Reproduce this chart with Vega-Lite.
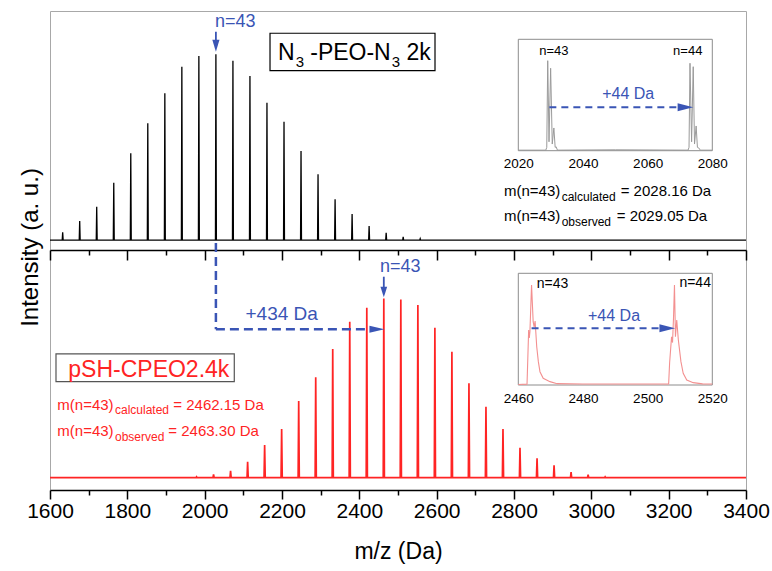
{
  "$schema": "https://vega.github.io/schema/vega-lite/v6.json",
  "width": 696,
  "height": 479,
  "autosize": "none",
  "padding": {"left": 50, "top": 11, "right": 26, "bottom": 81},
  "background": "white",
  "config": {
    "view": {"stroke": "#a8a8a8", "strokeWidth": 1},
    "font": "Liberation Sans",
    "text": {"font": "Liberation Sans"}
  },
  "datasets": {
    "topSpec": [
      {"mz": 1600, "I": 0.3},
      {"mz": 1631.6, "I": 0.3}, {"mz": 1632.8, "I": 4.5}, {"mz": 1634.0, "I": 0.3},
      {"mz": 1675.6, "I": 0.3}, {"mz": 1676.8, "I": 10.6}, {"mz": 1678.0, "I": 0.3},
      {"mz": 1719.6, "I": 0.3}, {"mz": 1720.8, "I": 18.2}, {"mz": 1722.0, "I": 0.3},
      {"mz": 1763.7, "I": 0.3}, {"mz": 1764.9, "I": 31.1}, {"mz": 1766.1, "I": 0.3},
      {"mz": 1807.7, "I": 0.3}, {"mz": 1808.9, "I": 46.9}, {"mz": 1810.1, "I": 0.3},
      {"mz": 1851.7, "I": 0.3}, {"mz": 1852.9, "I": 63.0}, {"mz": 1854.1, "I": 0.3},
      {"mz": 1895.8, "I": 0.3}, {"mz": 1897.0, "I": 79.1}, {"mz": 1898.2, "I": 0.3},
      {"mz": 1939.8, "I": 0.3}, {"mz": 1941.0, "I": 93.3}, {"mz": 1942.2, "I": 0.3},
      {"mz": 1983.8, "I": 0.3}, {"mz": 1985.0, "I": 99.1}, {"mz": 1986.2, "I": 0.3},
      {"mz": 2027.9, "I": 0.3}, {"mz": 2029.05, "I": 100}, {"mz": 2030.3, "I": 0.3},
      {"mz": 2071.9, "I": 0.3}, {"mz": 2073.1, "I": 96.6}, {"mz": 2074.3, "I": 0.3},
      {"mz": 2115.9, "I": 0.3}, {"mz": 2117.1, "I": 88.4}, {"mz": 2118.3, "I": 0.3},
      {"mz": 2159.9, "I": 0.3}, {"mz": 2161.1, "I": 74.0}, {"mz": 2162.3, "I": 0.3},
      {"mz": 2204.0, "I": 0.3}, {"mz": 2205.2, "I": 63.8}, {"mz": 2206.4, "I": 0.3},
      {"mz": 2248.0, "I": 0.3}, {"mz": 2249.2, "I": 48.1}, {"mz": 2250.4, "I": 0.3},
      {"mz": 2292.0, "I": 0.3}, {"mz": 2293.2, "I": 35.6}, {"mz": 2294.4, "I": 0.3},
      {"mz": 2336.1, "I": 0.3}, {"mz": 2337.3, "I": 22.2}, {"mz": 2338.5, "I": 0.3},
      {"mz": 2380.1, "I": 0.3}, {"mz": 2381.3, "I": 14.3}, {"mz": 2382.5, "I": 0.3},
      {"mz": 2424.1, "I": 0.3}, {"mz": 2425.3, "I": 7.9}, {"mz": 2426.5, "I": 0.3},
      {"mz": 2468.2, "I": 0.3}, {"mz": 2469.4, "I": 4.3}, {"mz": 2470.6, "I": 0.3},
      {"mz": 2512.2, "I": 0.3}, {"mz": 2513.4, "I": 2.1}, {"mz": 2514.6, "I": 0.3},
      {"mz": 2556.2, "I": 0.3}, {"mz": 2557.4, "I": 1.1}, {"mz": 2558.6, "I": 0.3},
      {"mz": 3400, "I": 0.3}
    ],
    "botSpec": [
      {"mz": 1600, "I": 0.5},
      {"mz": 1977.5, "I": 0.5}, {"mz": 1979.0, "I": 1.0}, {"mz": 1980.5, "I": 0.5},
      {"mz": 2021.5, "I": 0.5}, {"mz": 2023.0, "I": 2.3}, {"mz": 2024.5, "I": 0.5},
      {"mz": 2065.5, "I": 0.5}, {"mz": 2067.0, "I": 4.2}, {"mz": 2068.5, "I": 0.5},
      {"mz": 2109.6, "I": 0.5}, {"mz": 2111.1, "I": 9.3}, {"mz": 2112.6, "I": 0.5},
      {"mz": 2153.6, "I": 0.5}, {"mz": 2155.1, "I": 18.6}, {"mz": 2156.6, "I": 0.5},
      {"mz": 2197.6, "I": 0.5}, {"mz": 2199.1, "I": 27.5}, {"mz": 2200.6, "I": 0.5},
      {"mz": 2241.7, "I": 0.5}, {"mz": 2243.2, "I": 43.1}, {"mz": 2244.7, "I": 0.5},
      {"mz": 2285.7, "I": 0.5}, {"mz": 2287.2, "I": 56.2}, {"mz": 2288.7, "I": 0.5},
      {"mz": 2329.7, "I": 0.5}, {"mz": 2331.2, "I": 71.9}, {"mz": 2332.7, "I": 0.5},
      {"mz": 2373.7, "I": 0.5}, {"mz": 2375.2, "I": 87.1}, {"mz": 2376.7, "I": 0.5},
      {"mz": 2417.8, "I": 0.5}, {"mz": 2419.3, "I": 94.9}, {"mz": 2420.8, "I": 0.5},
      {"mz": 2461.8, "I": 0.5}, {"mz": 2463.3, "I": 100}, {"mz": 2464.8, "I": 0.5},
      {"mz": 2505.8, "I": 0.5}, {"mz": 2507.3, "I": 99.5}, {"mz": 2508.8, "I": 0.5},
      {"mz": 2549.9, "I": 0.5}, {"mz": 2551.4, "I": 96.4}, {"mz": 2552.9, "I": 0.5},
      {"mz": 2593.9, "I": 0.5}, {"mz": 2595.4, "I": 83.8}, {"mz": 2596.9, "I": 0.5},
      {"mz": 2637.9, "I": 0.5}, {"mz": 2639.4, "I": 70.4}, {"mz": 2640.9, "I": 0.5},
      {"mz": 2682.0, "I": 0.5}, {"mz": 2683.5, "I": 52.9}, {"mz": 2685.0, "I": 0.5},
      {"mz": 2726.0, "I": 0.5}, {"mz": 2727.5, "I": 39.9}, {"mz": 2729.0, "I": 0.5},
      {"mz": 2770.0, "I": 0.5}, {"mz": 2771.5, "I": 27.5}, {"mz": 2773.0, "I": 0.5},
      {"mz": 2814.0, "I": 0.5}, {"mz": 2815.5, "I": 17.1}, {"mz": 2817.0, "I": 0.5},
      {"mz": 2858.1, "I": 0.5}, {"mz": 2859.6, "I": 11.2}, {"mz": 2861.1, "I": 0.5},
      {"mz": 2902.1, "I": 0.5}, {"mz": 2903.6, "I": 7.3}, {"mz": 2905.1, "I": 0.5},
      {"mz": 2946.1, "I": 0.5}, {"mz": 2947.6, "I": 3.6}, {"mz": 2949.1, "I": 0.5},
      {"mz": 2990.2, "I": 0.5}, {"mz": 2991.7, "I": 2.1}, {"mz": 2993.2, "I": 0.5},
      {"mz": 3034.2, "I": 0.5}, {"mz": 3035.7, "I": 1.0}, {"mz": 3037.2, "I": 0.5},
      {"mz": 3400, "I": 0.5}
    ],
    "insetTop": [
      {"mz": 2020, "I": 0.5}, {"mz": 2028.5, "I": 0.5}, {"mz": 2028.8, "I": 3},
      {"mz": 2029.1, "I": 80.8}, {"mz": 2029.5, "I": 8}, {"mz": 2030.0, "I": 74.0},
      {"mz": 2030.5, "I": 6}, {"mz": 2031.0, "I": 20.4}, {"mz": 2031.4, "I": 3},
      {"mz": 2031.7, "I": 3.5}, {"mz": 2032.1, "I": 0.5}, {"mz": 2050, "I": 0.8},
      {"mz": 2072.5, "I": 0.5}, {"mz": 2072.8, "I": 3}, {"mz": 2073.1, "I": 78.5},
      {"mz": 2073.6, "I": 8}, {"mz": 2074.1, "I": 75.4}, {"mz": 2074.5, "I": 6},
      {"mz": 2075.0, "I": 22.2}, {"mz": 2075.4, "I": 3}, {"mz": 2075.8, "I": 2.5},
      {"mz": 2076.3, "I": 0.5}, {"mz": 2080, "I": 0.5}
    ],
    "insetBot": [
      {"mz": 2460, "I": 0.5}, {"mz": 2462.7, "I": 0.8}, {"mz": 2462.9, "I": 20},
      {"mz": 2463.2, "I": 49.2}, {"mz": 2463.4, "I": 42.1}, {"mz": 2463.6, "I": 48},
      {"mz": 2464.1, "I": 89.5}, {"mz": 2464.6, "I": 56.7}, {"mz": 2464.9, "I": 52},
      {"mz": 2465.2, "I": 57.3}, {"mz": 2465.7, "I": 34.3}, {"mz": 2466.2, "I": 20.9},
      {"mz": 2466.7, "I": 11.9}, {"mz": 2467.7, "I": 6.0}, {"mz": 2469.8, "I": 3.0},
      {"mz": 2472, "I": 1.2}, {"mz": 2480, "I": 0.9}, {"mz": 2500, "I": 0.9},
      {"mz": 2506.5, "I": 1.0}, {"mz": 2506.8, "I": 20}, {"mz": 2507.4, "I": 43.2},
      {"mz": 2507.7, "I": 38}, {"mz": 2508.0, "I": 60}, {"mz": 2508.3, "I": 89.5},
      {"mz": 2508.6, "I": 43.2}, {"mz": 2509.0, "I": 58.2}, {"mz": 2509.5, "I": 40.3},
      {"mz": 2510.3, "I": 20.9}, {"mz": 2511.0, "I": 10.5}, {"mz": 2512.1, "I": 4.5},
      {"mz": 2514.1, "I": 2.1}, {"mz": 2517, "I": 1.0}, {"mz": 2520, "I": 0.9}
    ]
  },
  "resolve": {
    "scale": {"x": "independent", "y": "independent"},
    "axis": {"x": "independent", "y": "independent"}
  },
  "layer": [
    {
      "data": {"name": "topSpec"},
      "mark": {"type": "line", "color": "black", "strokeWidth": 1.3},
      "encoding": {
        "x": {"field": "mz", "type": "quantitative",
          "scale": {"domain": [1600, 3400], "nice": false, "zero": false},
          "axis": {"orient": "bottom", "offset": -240, "values": [1600,1800,2000,2200,2400,2600,2800,3000,3200,3400],
            "labels": false, "grid": false, "title": null, "tickSize": 10,
            "tickColor": "black", "tickWidth": 1.5, "domainColor": "black", "domainWidth": 1.6}},
        "y": {"field": "I", "type": "quantitative",
          "scale": {"domain": [0, 100], "range": [229.7, 43.3], "nice": false, "zero": false},
          "axis": {"orient": "left", "title": "Intensity (a. u.)", "labels": false, "ticks": false, "domain": false, "grid": false,
            "titleFont": "Liberation Sans", "titleFontSize": 24, "titleFontWeight": "normal", "titleColor": "black",
            "titlePadding": 8, "titleY": 236}}
      }
    },
    {
      "data": {"values": [{"x": 2169, "x2": 2595.7, "y": 91.2, "y2": 111.3}]},
      "mark": {"type": "rect", "fill": "white", "stroke": "black", "strokeWidth": 1.2},
      "encoding": {
        "x": {"field": "x", "type": "quantitative", "scale": {"domain": [1600, 3400], "nice": false, "zero": false},
          "axis": {"orient": "bottom", "offset": -240, "values": [1700,1900,2100,2300,2500,2700,2900,3100,3300],
            "labels": false, "domain": false, "grid": false, "title": null, "tickSize": 5,
            "tickColor": "black", "tickWidth": 1.5}},
        "x2": {"field": "x2"},
        "y": {"field": "y", "type": "quantitative", "scale": {"domain": [0, 100], "range": [229.7, 43.3], "nice": false, "zero": false}, "axis": null},
        "y2": {"field": "y2"}
      }
    },
    {
      "data": {"values": [{"x": 2189.7, "y": 96.9, "t": "N"}, {"x": 2273.0, "y": 96.9, "t": "-PEO-N"}, {"x": 2521.7, "y": 96.9, "t": "2k"}]},
      "mark": {"type": "text", "align": "left", "baseline": "alphabetic", "fontSize": 23, "color": "black", "font": "Liberation Sans"},
      "encoding": {
        "x": {"field": "x", "type": "quantitative", "scale": {"domain": [1600, 3400], "nice": false, "zero": false}, "axis": null},
        "y": {"field": "y", "type": "quantitative", "scale": {"domain": [0, 100], "range": [229.7, 43.3], "nice": false, "zero": false}, "axis": null},
        "text": {"field": "t"}
      }
    },
    {
      "data": {"values": [{"x": 2235.5, "y": 93.3, "t": "3"}, {"x": 2484.0, "y": 93.3, "t": "3"}]},
      "mark": {"type": "text", "align": "left", "baseline": "alphabetic", "fontSize": 15, "color": "black", "font": "Liberation Sans"},
      "encoding": {
        "x": {"field": "x", "type": "quantitative", "scale": {"domain": [1600, 3400], "nice": false, "zero": false}, "axis": null},
        "y": {"field": "y", "type": "quantitative", "scale": {"domain": [0, 100], "range": [229.7, 43.3], "nice": false, "zero": false}, "axis": null},
        "text": {"field": "t"}
      }
    },
    {
      "data": {"values": [{"x": 2774.1, "y": 24.0, "t": "m(n=43)"}, {"x": 3075.9, "y": 24.0, "t": "= 2028.16 Da"}, {"x": 2774.1, "y": 10.6, "t": "m(n=43)"}, {"x": 3065.6, "y": 10.6, "t": "= 2029.05 Da"}]},
      "mark": {"type": "text", "align": "left", "baseline": "alphabetic", "fontSize": 15, "color": "black", "font": "Liberation Sans"},
      "encoding": {
        "x": {"field": "x", "type": "quantitative", "scale": {"domain": [1600, 3400], "nice": false, "zero": false}, "axis": null},
        "y": {"field": "y", "type": "quantitative", "scale": {"domain": [0, 100], "range": [229.7, 43.3], "nice": false, "zero": false}, "axis": null},
        "text": {"field": "t"}
      }
    },
    {
      "data": {"values": [{"x": 2923.3, "y": 21.3, "t": "calculated"}, {"x": 2923.3, "y": 7.9, "t": "observed"}]},
      "mark": {"type": "text", "align": "left", "baseline": "alphabetic", "fontSize": 12, "color": "black", "font": "Liberation Sans"},
      "encoding": {
        "x": {"field": "x", "type": "quantitative", "scale": {"domain": [1600, 3400], "nice": false, "zero": false}, "axis": null},
        "y": {"field": "y", "type": "quantitative", "scale": {"domain": [0, 100], "range": [229.7, 43.3], "nice": false, "zero": false}, "axis": null},
        "text": {"field": "t"}
      }
    },
    {
      "data": {"values": [{"x": 2026.7, "y": 117.5, "t": "n=43"}]},
      "mark": {"type": "text", "align": "left", "baseline": "middle", "fontSize": 18, "color": "#3a55b5", "font": "Liberation Sans"},
      "encoding": {
        "x": {"field": "x", "type": "quantitative", "scale": {"domain": [1600, 3400], "nice": false, "zero": false}, "axis": null},
        "y": {"field": "y", "type": "quantitative", "scale": {"domain": [0, 100], "range": [229.7, 43.3], "nice": false, "zero": false}, "axis": null},
        "text": {"field": "t"}
      }
    },
    {
      "data": {"values": [{"x": 2029.05, "y": 112.1, "y2": 106.0}]},
      "mark": {"type": "rule", "color": "#3a55b5", "strokeWidth": 1.8},
      "encoding": {
        "x": {"field": "x", "type": "quantitative", "scale": {"domain": [1600, 3400], "nice": false, "zero": false}, "axis": null},
        "y": {"field": "y", "type": "quantitative", "scale": {"domain": [0, 100], "range": [229.7, 43.3], "nice": false, "zero": false}, "axis": null},
        "y2": {"field": "y2"}
      }
    },
    {
      "data": {"values": [{"x": 2029.05, "y": 101.4}]},
      "mark": {"type": "point", "shape": "M0,0L-0.3,-1L0.3,-1Z", "size": 576, "filled": true, "opacity": 1, "color": "#3a55b5", "strokeWidth": 0},
      "encoding": {
        "x": {"field": "x", "type": "quantitative", "scale": {"domain": [1600, 3400], "nice": false, "zero": false}, "axis": null},
        "y": {"field": "y", "type": "quantitative", "scale": {"domain": [0, 100], "range": [229.7, 43.3], "nice": false, "zero": false}, "axis": null}
      }
    },
    {
      "data": {"name": "botSpec"},
      "mark": {"type": "line", "color": "#ff2424", "strokeWidth": 1.7},
      "encoding": {
        "x": {"field": "mz", "type": "quantitative",
          "scale": {"domain": [1600, 3400], "nice": false, "zero": false},
          "axis": {"orient": "bottom", "values": [1600,1800,2000,2200,2400,2600,2800,3000,3200,3400],
            "format": "d", "grid": false, "labelFlush": false, "labelOverlap": false, "tickSize": 9,
            "tickColor": "black", "tickWidth": 1.5, "domainColor": "black", "domainWidth": 1.6,
            "labelFont": "Liberation Sans", "labelFontSize": 21, "labelColor": "black", "labelPadding": 1,
            "title": "m/z (Da)", "titleFont": "Liberation Sans", "titleFontSize": 23, "titleFontWeight": "normal",
            "titleColor": "black", "titlePadding": 19}},
        "y": {"field": "I", "type": "quantitative",
          "scale": {"domain": [0, 100], "range": [467.5, 287.5], "nice": false, "zero": false}, "axis": null}
      }
    },
    {
      "data": {"values": [{"x": 1615.5, "x2": 2076.6, "y": 53.8, "y2": 69.2}]},
      "mark": {"type": "rect", "fill": "white", "stroke": "#555555", "strokeWidth": 1.2},
      "encoding": {
        "x": {"field": "x", "type": "quantitative", "scale": {"domain": [1600, 3400], "nice": false, "zero": false},
          "axis": {"orient": "bottom", "values": [1700,1900,2100,2300,2500,2700,2900,3100,3300],
            "labels": false, "domain": false, "grid": false, "title": null, "tickSize": 5,
            "tickColor": "black", "tickWidth": 1.5}},
        "x2": {"field": "x2"},
        "y": {"field": "y", "type": "quantitative", "scale": {"domain": [0, 100], "range": [467.5, 287.5], "nice": false, "zero": false}, "axis": null},
        "y2": {"field": "y2"}
      }
    },
    {
      "data": {"values": [{"x": 1647.3, "y": 56.4, "t": "pSH-CPEO2.4k"}]},
      "mark": {"type": "text", "align": "left", "baseline": "alphabetic", "fontSize": 23, "color": "#ff2424", "font": "Liberation Sans"},
      "encoding": {
        "x": {"field": "x", "type": "quantitative", "scale": {"domain": [1600, 3400], "nice": false, "zero": false}, "axis": null},
        "y": {"field": "y", "type": "quantitative", "scale": {"domain": [0, 100], "range": [467.5, 287.5], "nice": false, "zero": false}, "axis": null},
        "text": {"field": "t"}
      }
    },
    {
      "data": {"values": [{"x": 1618.9, "y": 38.1, "t": "m(n=43)"}, {"x": 1918.9, "y": 38.1, "t": "= 2462.15 Da"}, {"x": 1618.9, "y": 23.6, "t": "m(n=43)"}, {"x": 1906.0, "y": 23.6, "t": "= 2463.30 Da"}]},
      "mark": {"type": "text", "align": "left", "baseline": "alphabetic", "fontSize": 15, "color": "#ff2424", "font": "Liberation Sans"},
      "encoding": {
        "x": {"field": "x", "type": "quantitative", "scale": {"domain": [1600, 3400], "nice": false, "zero": false}, "axis": null},
        "y": {"field": "y", "type": "quantitative", "scale": {"domain": [0, 100], "range": [467.5, 287.5], "nice": false, "zero": false}, "axis": null},
        "text": {"field": "t"}
      }
    },
    {
      "data": {"values": [{"x": 1768.1, "y": 35.6, "t": "calculated"}, {"x": 1768.1, "y": 21.1, "t": "observed"}]},
      "mark": {"type": "text", "align": "left", "baseline": "alphabetic", "fontSize": 12, "color": "#ff2424", "font": "Liberation Sans"},
      "encoding": {
        "x": {"field": "x", "type": "quantitative", "scale": {"domain": [1600, 3400], "nice": false, "zero": false}, "axis": null},
        "y": {"field": "y", "type": "quantitative", "scale": {"domain": [0, 100], "range": [467.5, 287.5], "nice": false, "zero": false}, "axis": null},
        "text": {"field": "t"}
      }
    },
    {
      "data": {"values": [{"x": 2199.2, "y": 91.4, "t": "+434 Da"}]},
      "mark": {"type": "text", "align": "center", "baseline": "middle", "fontSize": 19, "color": "#3a55b5", "font": "Liberation Sans"},
      "encoding": {
        "x": {"field": "x", "type": "quantitative", "scale": {"domain": [1600, 3400], "nice": false, "zero": false}, "axis": null},
        "y": {"field": "y", "type": "quantitative", "scale": {"domain": [0, 100], "range": [467.5, 287.5], "nice": false, "zero": false}, "axis": null},
        "text": {"field": "t"}
      }
    },
    {
      "data": {"values": [{"x": 2453.4, "y": 117.7, "t": "n=43"}]},
      "mark": {"type": "text", "align": "left", "baseline": "middle", "fontSize": 18, "color": "#3a55b5", "font": "Liberation Sans"},
      "encoding": {
        "x": {"field": "x", "type": "quantitative", "scale": {"domain": [1600, 3400], "nice": false, "zero": false}, "axis": null},
        "y": {"field": "y", "type": "quantitative", "scale": {"domain": [0, 100], "range": [467.5, 287.5], "nice": false, "zero": false}, "axis": null},
        "text": {"field": "t"}
      }
    },
    {
      "data": {"values": [{"x": 2029.05, "x2": 2029.05, "y": 130.8, "y2": 82.9}, {"x": 2029.05, "x2": 2426.2, "y": 82.9, "y2": 82.9}]},
      "mark": {"type": "rule", "color": "#3a55b5", "strokeWidth": 2.5, "strokeDash": [9, 5]},
      "encoding": {
        "x": {"field": "x", "type": "quantitative", "scale": {"domain": [1600, 3400], "nice": false, "zero": false}, "axis": null},
        "x2": {"field": "x2"},
        "y": {"field": "y", "type": "quantitative", "scale": {"domain": [0, 100], "range": [467.5, 287.5], "nice": false, "zero": false}, "axis": null},
        "y2": {"field": "y2"}
      }
    },
    {
      "data": {"values": [{"x": 2463.3, "y": 112.1, "y2": 106.0}]},
      "mark": {"type": "rule", "color": "#3a55b5", "strokeWidth": 1.8},
      "encoding": {
        "x": {"field": "x", "type": "quantitative", "scale": {"domain": [1600, 3400], "nice": false, "zero": false}, "axis": null},
        "y": {"field": "y", "type": "quantitative", "scale": {"domain": [0, 100], "range": [467.5, 287.5], "nice": false, "zero": false}, "axis": null},
        "y2": {"field": "y2"}
      }
    },
    {
      "data": {"values": [{"x": 2463.3, "y": 100.7}]},
      "mark": {"type": "point", "shape": "M0,0L-0.32,-1L0.32,-1Z", "size": 441, "filled": true, "opacity": 1, "color": "#3a55b5", "strokeWidth": 0},
      "encoding": {
        "x": {"field": "x", "type": "quantitative", "scale": {"domain": [1600, 3400], "nice": false, "zero": false}, "axis": null},
        "y": {"field": "y", "type": "quantitative", "scale": {"domain": [0, 100], "range": [467.5, 287.5], "nice": false, "zero": false}, "axis": null}
      }
    },
    {
      "data": {"values": [{"x": 2465.0, "y": 82.9}]},
      "mark": {"type": "point", "shape": "M0,0L-1,-0.23L-1,0.23Z", "size": 900, "filled": true, "opacity": 1, "color": "#3a55b5", "strokeWidth": 0},
      "encoding": {
        "x": {"field": "x", "type": "quantitative", "scale": {"domain": [1600, 3400], "nice": false, "zero": false}, "axis": null},
        "y": {"field": "y", "type": "quantitative", "scale": {"domain": [0, 100], "range": [467.5, 287.5], "nice": false, "zero": false}, "axis": null}
      }
    },
    {
      "data": {"values": [{"x": 2020, "x2": 2080, "y": 0, "y2": 100}]},
      "mark": {"type": "rect", "fill": "white", "stroke": "#8c8c8c", "strokeWidth": 1},
      "encoding": {
        "x": {"field": "x", "type": "quantitative",
          "scale": {"domain": [2020, 2080], "range": [468.3, 662.3], "nice": false, "zero": false},
          "axis": {"orient": "bottom", "offset": -339.3, "values": [2020, 2040, 2060, 2080], "format": "d",
            "domain": false, "ticks": false, "grid": false, "title": null, "labelFlush": false, "labelOverlap": false,
            "labelFont": "Liberation Sans", "labelFontSize": 13.5, "labelColor": "black", "labelPadding": 6}},
        "x2": {"field": "x2"},
        "y": {"field": "y", "type": "quantitative", "scale": {"domain": [0, 100], "range": [139.7, 28.3], "nice": false, "zero": false}, "axis": null},
        "y2": {"field": "y2"}
      }
    },
    {
      "data": {"name": "insetTop"},
      "mark": {"type": "line", "color": "#9a9a9a", "strokeWidth": 1},
      "encoding": {
        "x": {"field": "mz", "type": "quantitative", "scale": {"domain": [2020, 2080], "range": [468.3, 662.3], "nice": false, "zero": false}, "axis": null},
        "y": {"field": "I", "type": "quantitative", "scale": {"domain": [0, 100], "range": [139.7, 28.3], "nice": false, "zero": false}, "axis": null}
      }
    },
    {
      "data": {"values": [{"x": 2031.0, "y": 89.8, "t": "n=43"}, {"x": 2072.4, "y": 89.8, "t": "n=44"}]},
      "mark": {"type": "text", "align": "center", "baseline": "middle", "fontSize": 13, "color": "black", "font": "Liberation Sans"},
      "encoding": {
        "x": {"field": "x", "type": "quantitative", "scale": {"domain": [2020, 2080], "range": [468.3, 662.3], "nice": false, "zero": false}, "axis": null},
        "y": {"field": "y", "type": "quantitative", "scale": {"domain": [0, 100], "range": [139.7, 28.3], "nice": false, "zero": false}, "axis": null},
        "text": {"field": "t"}
      }
    },
    {
      "data": {"values": [{"x": 2054.0, "y": 50.6, "t": "+44 Da"}]},
      "mark": {"type": "text", "align": "center", "baseline": "middle", "fontSize": 16, "color": "#3a55b5", "font": "Liberation Sans"},
      "encoding": {
        "x": {"field": "x", "type": "quantitative", "scale": {"domain": [2020, 2080], "range": [468.3, 662.3], "nice": false, "zero": false}, "axis": null},
        "y": {"field": "y", "type": "quantitative", "scale": {"domain": [0, 100], "range": [139.7, 28.3], "nice": false, "zero": false}, "axis": null},
        "text": {"field": "t"}
      }
    },
    {
      "data": {"values": [{"x": 2029.6, "x2": 2069.3, "y": 39.0}]},
      "mark": {"type": "rule", "color": "#3a55b5", "strokeWidth": 2, "strokeDash": [7, 5]},
      "encoding": {
        "x": {"field": "x", "type": "quantitative", "scale": {"domain": [2020, 2080], "range": [468.3, 662.3], "nice": false, "zero": false}, "axis": null},
        "x2": {"field": "x2"},
        "y": {"field": "y", "type": "quantitative", "scale": {"domain": [0, 100], "range": [139.7, 28.3], "nice": false, "zero": false}, "axis": null}
      }
    },
    {
      "data": {"values": [{"x": 2074.1, "y": 39.0}]},
      "mark": {"type": "point", "shape": "M0,0L-1,-0.26L-1,0.26Z", "size": 973, "filled": true, "opacity": 1, "color": "#3a55b5", "strokeWidth": 0},
      "encoding": {
        "x": {"field": "x", "type": "quantitative", "scale": {"domain": [2020, 2080], "range": [468.3, 662.3], "nice": false, "zero": false}, "axis": null},
        "y": {"field": "y", "type": "quantitative", "scale": {"domain": [0, 100], "range": [139.7, 28.3], "nice": false, "zero": false}, "axis": null}
      }
    },
    {
      "data": {"values": [{"x": 2460, "x2": 2520, "y": 0, "y2": 100}]},
      "mark": {"type": "rect", "fill": "white", "stroke": "#8c8c8c", "strokeWidth": 1},
      "encoding": {
        "x": {"field": "x", "type": "quantitative",
          "scale": {"domain": [2460, 2520], "range": [468.3, 662.3], "nice": false, "zero": false},
          "axis": {"orient": "bottom", "offset": -105, "values": [2460, 2480, 2500, 2520], "format": "d",
            "domain": false, "ticks": false, "grid": false, "title": null, "labelFlush": false, "labelOverlap": false,
            "labelFont": "Liberation Sans", "labelFontSize": 13.5, "labelColor": "black", "labelPadding": 6}},
        "x2": {"field": "x2"},
        "y": {"field": "y", "type": "quantitative", "scale": {"domain": [0, 100], "range": [374, 262.3], "nice": false, "zero": false}, "axis": null},
        "y2": {"field": "y2"}
      }
    },
    {
      "data": {"name": "insetBot"},
      "mark": {"type": "line", "color": "#f39090", "strokeWidth": 1.1},
      "encoding": {
        "x": {"field": "mz", "type": "quantitative", "scale": {"domain": [2460, 2520], "range": [468.3, 662.3], "nice": false, "zero": false}, "axis": null},
        "y": {"field": "I", "type": "quantitative", "scale": {"domain": [0, 100], "range": [374, 262.3], "nice": false, "zero": false}, "axis": null}
      }
    },
    {
      "data": {"values": [{"x": 2470.6, "y": 90.4, "t": "n=43"}, {"x": 2514.7, "y": 91.0, "t": "n=44"}]},
      "mark": {"type": "text", "align": "center", "baseline": "middle", "fontSize": 14, "color": "black", "font": "Liberation Sans"},
      "encoding": {
        "x": {"field": "x", "type": "quantitative", "scale": {"domain": [2460, 2520], "range": [468.3, 662.3], "nice": false, "zero": false}, "axis": null},
        "y": {"field": "y", "type": "quantitative", "scale": {"domain": [0, 100], "range": [374, 262.3], "nice": false, "zero": false}, "axis": null},
        "text": {"field": "t"}
      }
    },
    {
      "data": {"values": [{"x": 2489.6, "y": 61.8, "t": "+44 Da"}]},
      "mark": {"type": "text", "align": "center", "baseline": "middle", "fontSize": 16, "color": "#3a55b5", "font": "Liberation Sans"},
      "encoding": {
        "x": {"field": "x", "type": "quantitative", "scale": {"domain": [2460, 2520], "range": [468.3, 662.3], "nice": false, "zero": false}, "axis": null},
        "y": {"field": "y", "type": "quantitative", "scale": {"domain": [0, 100], "range": [374, 262.3], "nice": false, "zero": false}, "axis": null},
        "text": {"field": "t"}
      }
    },
    {
      "data": {"values": [{"x": 2464.1, "x2": 2503.6, "y": 50.8}]},
      "mark": {"type": "rule", "color": "#3a55b5", "strokeWidth": 2, "strokeDash": [7, 5]},
      "encoding": {
        "x": {"field": "x", "type": "quantitative", "scale": {"domain": [2460, 2520], "range": [468.3, 662.3], "nice": false, "zero": false}, "axis": null},
        "x2": {"field": "x2"},
        "y": {"field": "y", "type": "quantitative", "scale": {"domain": [0, 100], "range": [374, 262.3], "nice": false, "zero": false}, "axis": null}
      }
    },
    {
      "data": {"values": [{"x": 2508.5, "y": 50.8}]},
      "mark": {"type": "point", "shape": "M0,0L-1,-0.26L-1,0.26Z", "size": 986, "filled": true, "opacity": 1, "color": "#3a55b5", "strokeWidth": 0},
      "encoding": {
        "x": {"field": "x", "type": "quantitative", "scale": {"domain": [2460, 2520], "range": [468.3, 662.3], "nice": false, "zero": false}, "axis": null},
        "y": {"field": "y", "type": "quantitative", "scale": {"domain": [0, 100], "range": [374, 262.3], "nice": false, "zero": false}, "axis": null}
      }
    }
  ]
}
